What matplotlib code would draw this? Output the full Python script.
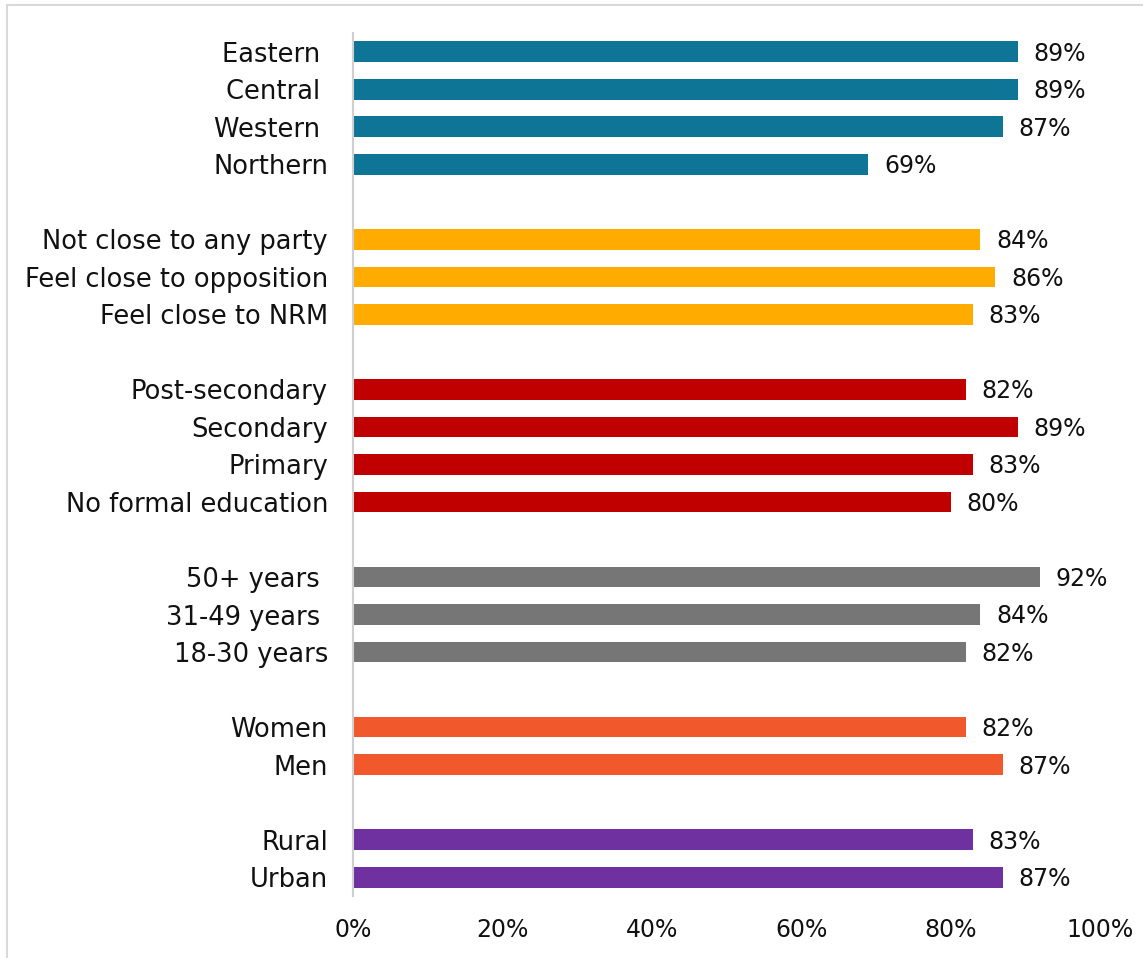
import matplotlib.pyplot as plt
from matplotlib.lines import Line2D

plt.rcParams['font.family'] = ['DejaVu Sans']

# groups from top to bottom
groups = [
    ["Eastern ", "Central ", "Western ", "Northern"],
    ["Not close to any party", "Feel close to opposition", "Feel close to NRM"],
    ["Post-secondary", "Secondary", "Primary", "No formal education"],
    ["50+ years ", "31-49 years ", "18-30 years"],
    ["Women", "Men"],
    ["Rural", "Urban"],
]
group_values = [
    [89, 89, 87, 69],
    [84, 86, 83],
    [82, 89, 83, 80],
    [92, 84, 82],
    [82, 87],
    [83, 87],
]
group_colors = ["#0F7596", "#FFAB00", "#C00000", "#767676", "#F1582C", "#7031A0"]

xticks = [0, 20, 40, 60, 80, 100]

fig = plt.figure(figsize=(11.43, 9.58), dpi=100)
ax = fig.add_axes([353 / 1143, 1 - 896 / 958, (1100 - 353) / 1143, (896 - 33) / 958])

ypos = []
labels = []
pos = 0
for names, vals, col in zip(groups, group_values, group_colors):
    ys = list(range(pos, pos + len(names)))
    ax.barh(ys, vals, height=0.55, color=col)
    for y, v in zip(ys, vals):
        ax.text(v + 2.1, y + 0.05, f"{v}%", va="center", ha="left", fontsize=17, color="#111111")
    ypos += ys
    labels += names
    pos += len(names) + 1

ax.set_ylim(pos - 1.5, -0.5)
ax.set_xlim(0, 100)
ax.set_yticks(ypos)
ax.set_yticklabels(labels, fontsize=18.5, color="#111111")
ax.set_xticks(xticks)
ax.set_xticklabels([f"{t}%" for t in xticks], fontsize=17, color="#111111")
ax.tick_params(length=0)
ax.tick_params(axis="y", pad=18)
ax.tick_params(axis="x", pad=16)
for s in ["top", "right", "bottom"]:
    ax.spines[s].set_visible(False)
ax.spines["left"].set_color("#d0d0d0")
ax.spines["left"].set_linewidth(1.5)

# outer frame (top and left edges)
fig.add_artist(Line2D([7 / 1143, 7 / 1143], [0, 1 - 5 / 958], transform=fig.transFigure, color="#d9d9d9", lw=1.5))
fig.add_artist(Line2D([7 / 1143, 1], [1 - 5 / 958, 1 - 5 / 958], transform=fig.transFigure, color="#d9d9d9", lw=1.5))

fig.savefig("out.png", dpi=100)
